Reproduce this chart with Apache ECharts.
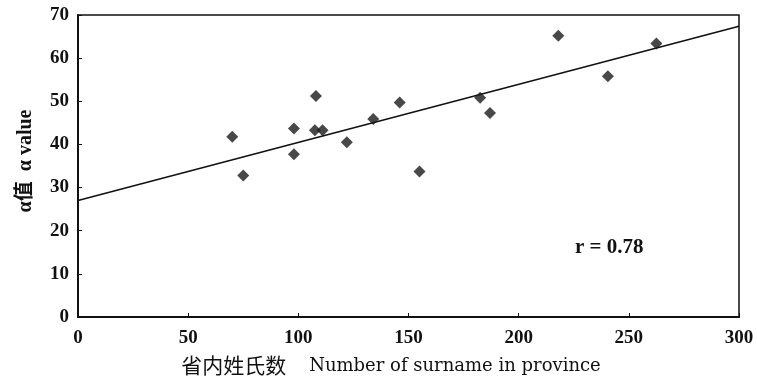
<!DOCTYPE html>
<html>
<head>
<meta charset="utf-8">
<script src="https://cdn.jsdelivr.net/npm/echarts@6/dist/echarts.min.js"></script>
<style>
html,body{margin:0;padding:0;background:#fff;}
#chart{width:757px;height:377px;}
</style>
</head>
<body>
<div id="chart"></div>
<script>
// Data
var surnameCount = [70, 75, 98, 98, 108, 107.5, 111, 122, 134, 146, 155, 182.5, 187, 218, 240.5, 262.5];
var alphaValue   = [41.8, 32.8, 43.7, 37.7, 51.2, 43.3, 43.3, 40.5, 45.9, 49.7, 33.7, 50.8, 47.3, 65.2, 55.8, 63.4];
var fitX = [0, 300];
var fitY = [27.0, 67.4];
var xTicks = [0, 50, 100, 150, 200, 250, 300];
var yTicks = [0, 10, 20, 30, 40, 50, 60, 70];
var rText = 'r = 0.78';
var xTitleCn = '省内姓氏数';
var xTitleEn = 'Number of surname in province';
var yTitle = 'α值  α value';

var serif = "'Liberation Serif','Noto Sans CJK SC',serif";
var points = surnameCount.map(function (x, i) { return [x, alphaValue[i]]; });
var fitLine = fitX.map(function (x, i) { return [x, fitY[i]]; });

var chart = echarts.init(document.getElementById('chart'), null, {renderer: 'canvas'});
chart.setOption({
  backgroundColor: '#ffffff',
  animation: false,
  grid: {left: 78, right: 18, top: 15, bottom: 60, outerBoundsMode: 'none', containLabel: false,
         show: true, borderColor: '#111', borderWidth: 1.5, backgroundColor: 'transparent'},
  xAxis: {
    type: 'value', min: xTicks[0], max: xTicks[xTicks.length - 1], interval: 50,
    splitLine: {show: false},
    axisLine: {show: true, lineStyle: {color: '#111', width: 2}},
    axisTick: {show: true, inside: true, length: 4, lineStyle: {color: '#111', width: 1}},
    axisLabel: {color: '#111', fontFamily: serif, fontWeight: 'bold', fontSize: 19, margin: 12},
    name: '{cn|' + xTitleCn + '}{en|    ' + xTitleEn + '}',
    nameLocation: 'middle', nameGap: 38,
    nameTextStyle: {
      padding: [0, 35, 0, 0],
      rich: {
        cn: {fontFamily: "'Noto Sans CJK SC',sans-serif", fontSize: 21, color: '#111', padding: [0, 0, 2, 0]},
        en: {fontFamily: "'DejaVu Serif',serif", fontSize: 18, color: '#111'}
      }
    }
  },
  yAxis: {
    type: 'value', min: yTicks[0], max: yTicks[yTicks.length - 1], interval: 10,
    splitLine: {show: false},
    axisLine: {show: true, lineStyle: {color: '#111', width: 2}},
    axisTick: {show: true, inside: true, length: 4, lineStyle: {color: '#111', width: 1}},
    axisLabel: {color: '#111', fontFamily: serif, fontWeight: 'bold', fontSize: 19, margin: 9},
    name: yTitle, nameLocation: 'middle', nameGap: 42, nameRotate: 90,
    nameTextStyle: {color: '#111', fontFamily: serif, fontSize: 20, fontWeight: 'bold', padding: [0, 0, 0, 10]}
  },
  series: [
    {
      type: 'line', data: fitLine, symbol: 'none',
      lineStyle: {color: '#111', width: 1.6}, z: 2
    },
    {
      type: 'scatter', data: points, symbol: 'diamond', symbolSize: [12, 12],
      itemStyle: {color: '#1a1a1a'}, z: 3
    }
  ],
  graphic: [
    {type: 'text', left: 575, top: 237,
     style: {text: rText, fill: '#111', font: "bold 21px 'Liberation Serif', serif"}}
  ]
});
</script>
</body>
</html>
